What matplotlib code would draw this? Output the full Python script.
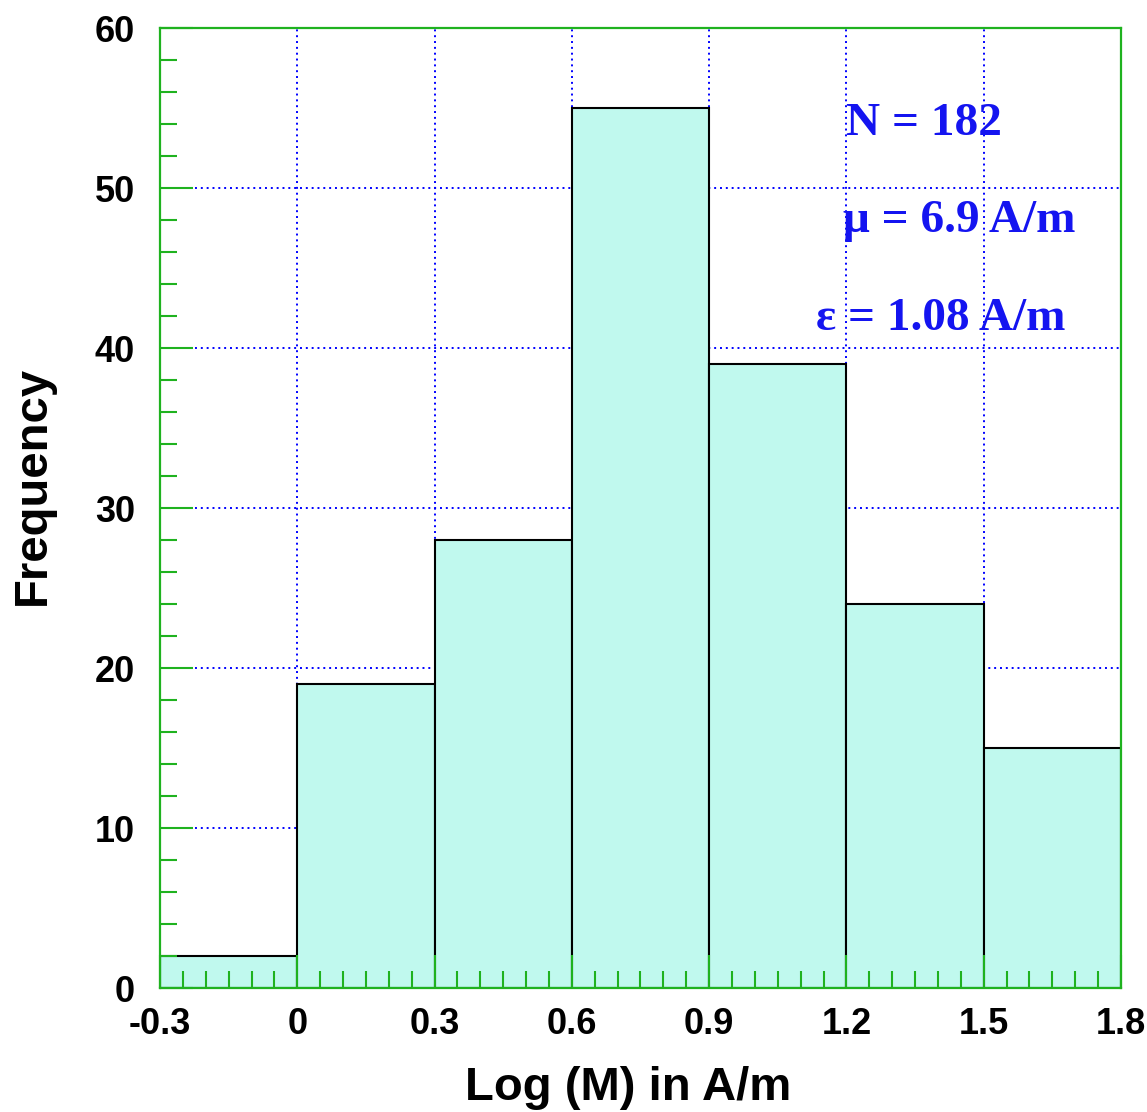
import matplotlib
matplotlib.use('Agg')
import matplotlib.pyplot as plt
import numpy as np

# histogram of log magnetisation, bins of 0.3
bin_edges = [-0.3, 0.0, 0.3, 0.6, 0.9, 1.2, 1.5, 1.8]
counts = [2, 19, 28, 55, 39, 24, 15]
x_ticks = [-0.3, 0, 0.3, 0.6, 0.9, 1.2, 1.5, 1.8]
x_ticklabels = ['-0.3', '0', '0.3', '0.6', '0.9', '1.2', '1.5', '1.8']
y_ticks = [0, 10, 20, 30, 40, 50, 60]
stats = ['N = 182', 'μ = 6.9 A/m', 'ε = 1.08 A/m']
stats_pos = [(1.370, 53.3), (1.446, 47.25), (1.405, 41.1)]

green = '#1fb21f'
blue = '#0000ff'

plt.rcParams['axes.unicode_minus'] = False
plt.rcParams['font.family'] = ['Liberation Sans', 'DejaVu Sans']

fig = plt.figure(figsize=(11.47, 11.12), dpi=100)
ax = fig.add_axes([0.1395, 0.1115, 0.8378, 0.8633])

lefts = np.array(bin_edges[:-1])
widths = np.diff(bin_edges)
ax.bar(lefts, counts, width=widths, align='edge', color='#c0f9ee',
       edgecolor='black', linewidth=1.5, zorder=1)

# dotted grid sits behind the bars
ax.vlines(x_ticks[1:-1], 0, 60, colors=blue, linestyles=(0, (1, 2)),
          linewidth=1.4, zorder=0.5)
ax.hlines(y_ticks[1:-1], -0.3, 1.8, colors=blue, linestyles=(0, (1, 2)),
          linewidth=1.4, zorder=0.5)

ax.set_xlim(-0.3, 1.8)
ax.set_ylim(0, 60)
ax.set_xticks(x_ticks)
ax.set_xticklabels(x_ticklabels)
ax.set_yticks(y_ticks)
ax.set_xticks(np.arange(-0.3, 1.8, 0.05), minor=True)
ax.set_yticks(np.arange(0, 60, 2), minor=True)

ax.tick_params(which='both', direction='in', color=green, width=1.5,
               top=False, right=False)
ax.tick_params(which='major', length=23.5)
ax.tick_params(which='minor', length=12)
ax.tick_params(axis='y', which='major', pad=18, labelsize=26)
ax.tick_params(axis='x', which='major', pad=14, labelsize=26)
for lab in ax.get_xticklabels() + ax.get_yticklabels():
    lab.set_fontweight('bold')

for s in ax.spines.values():
    s.set_color(green)
    s.set_linewidth(1.6)

ax.set_xlabel('Log (M) in A/m', fontsize=34, fontweight='bold', va='center')
ax.xaxis.set_label_coords(0.487, -0.104)
ax.set_ylabel('Frequency', fontsize=34, fontweight='bold', va='center')
ax.yaxis.set_label_coords(-0.132, 0.523)

for txt, (tx, ty) in zip(stats, stats_pos):
    ax.text(tx, ty, txt, color='#1414f0', fontsize=34, fontweight='bold',
            family=['Liberation Serif', 'DejaVu Serif'],
            ha='center', va='baseline', zorder=3)

fig.savefig('out.png', dpi=100)
